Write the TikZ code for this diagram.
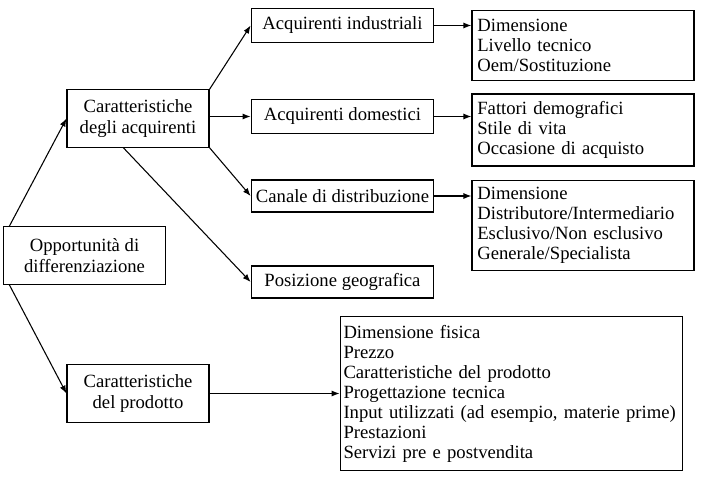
\documentclass[tikz,border=0pt]{standalone}
\usepackage{fontspec}
\setmainfont{Liberation Serif}
\usetikzlibrary{arrows.meta}
\tikzset{
	box/.style={draw, line width=0.8pt, inner sep=0pt, align=center, font=\fontsize{14}{15.5}\selectfont},
	listbox/.style={draw, line width=0.8pt, inner xsep=4pt, inner ysep=0pt, align=left, font=\fontsize{14}{15}\selectfont},
	arr/.style={-{Latex[length=6pt,width=4.5pt]}, line width=0.8pt}
}

\begin{document}
\begin{tikzpicture}[x=0.75pt, y=-0.75pt]
			%%%%% START %%%%%
			\useasboundingbox (0, 0) rectangle (704, 483);
			
			\node[box, minimum width=122pt, minimum height=43pt] (opp) at (84.5, 255.5) {Opportunità di\\differenziazione};
			\node[box, minimum width=106.5pt, minimum height=43pt] (cda) at (138, 118.5) {Caratteristiche\\degli acquirenti};
			\node[box, minimum width=106.5pt, minimum height=43pt] (cdp) at (138, 393.5) {Caratteristiche\\del prodotto};
			
			\node[box, minimum width=137pt, minimum height=25pt] (ai) at (342.5, 25.5) {Acquirenti industriali};
			\node[box, minimum width=137pt, minimum height=25pt] (ad) at (342.5, 116.5) {Acquirenti domestici};
			\node[box, minimum width=137pt, minimum height=24pt] (cd) at (342.5, 196) {Canale di distribuzione};
			\node[box, minimum width=137pt, minimum height=24pt] (pg) at (342.5, 282) {Posizione geografica};
			
			\node[listbox, text width=158.5pt, minimum height=53pt] (dim) at (583, 45.5) {Dimensione\\Livello tecnico\\Oem/Sostituzione};
			\node[listbox, text width=158.5pt, minimum height=54pt] (fat) at (583, 130) {Fattori demografici\\Stile di vita\\Occasione di acquisto};
			\node[listbox, text width=158.5pt, minimum height=68pt] (dis) at (583, 225.5) {Dimensione\\Distributore/Intermediario\\Esclusivo/Non esclusivo\\Generale/Specialista};
			\node[listbox, inner xsep=2.5pt, text width=252pt, minimum height=116pt] (pro) at (511.5, 393.5) {Dimensione fisica\\Prezzo\\Caratteristiche del prodotto\\Progettazione tecnica\\Input utilizzati (ad esempio, materie prime)\\Prestazioni\\Servizi pre e postvendita};
			
			\draw[arr] ([xshift=5pt]opp.north west) -- (cda.west);
			\draw[arr] ([xshift=5pt]opp.south west) -- (cdp.west);
			
			\draw[arr] (cda.north east) -- (ai.west);
			\draw[arr] (ad.west -| cda.east) -- (ad.west);
			\draw[arr] (cda.south east) -- (cd.west);
			\draw[arr] ([xshift=-11pt]cda.south) -- (pg.west);
			
			\draw[arr] (ai.east) -- (ai.east -| dim.west);
			\draw[arr] (ad.east) -- (ad.east -| fat.west);
			\draw[arr] (cd.east) -- (cd.east -| dis.west);
			\draw[arr] (cdp.east) -- (cdp.east -| pro.west);
			%%%%% END %%%%%
		\end{tikzpicture}
\end{document}
